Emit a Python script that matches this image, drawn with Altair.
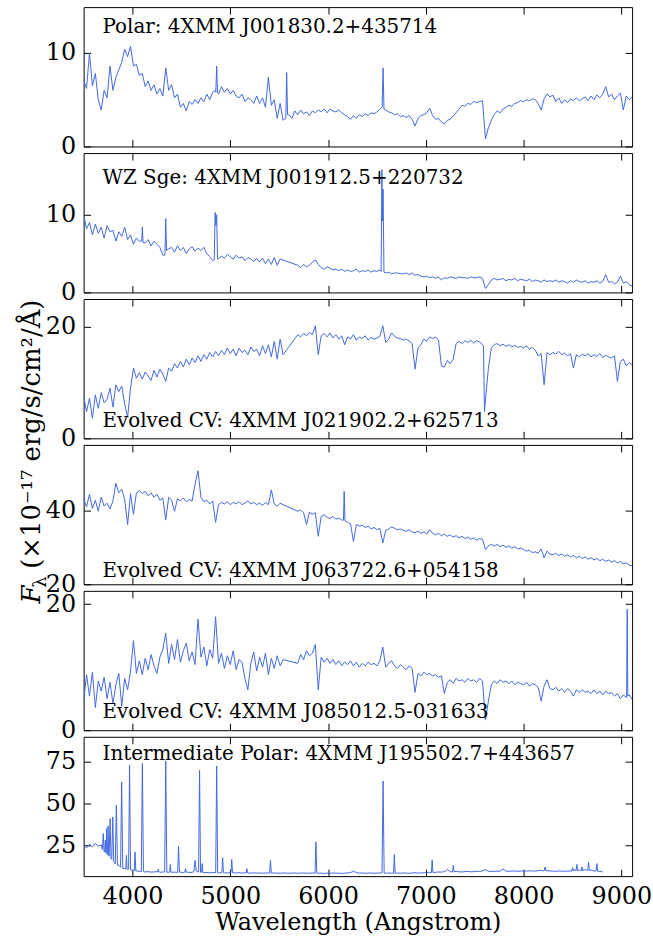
import altair as alt
import pandas as pd

# ---------------- data ----------------
# shared sampling grid (Angstrom), 30 A step from 3500 to 9110
WAVE = list(range(3500, 9111, 30))
XTICKS = [4000, 5000, 6000, 7000, 8000, 9000]

flux1 = [7.1, 6.2, 10.0, 6.5, 7.8, 5.0, 3.9, 6.0, 5.2, 8.6,
         6.0, 7.4, 8.2, 9.0, 10.4, 9.6, 10.7, 8.6, 8.8, 7.6,
         7.8, 6.4, 7.0, 6.0, 6.6, 5.6, 6.2, 5.4, 8.4, 6.0,
         6.6, 5.2, 5.6, 4.2, 4.6, 3.8, 4.8, 4.5, 5.0, 4.6,
         5.2, 4.8, 5.6, 5.0, 5.8, 6.0, 5.6, 6.4, 5.8, 6.2,
         5.6, 6.0, 5.4, 5.2, 5.6, 4.8, 5.2, 5.0, 4.6, 5.4,
         4.6, 5.2, 4.2, 7.4, 4.4, 5.0, 3.0, 4.6, 2.8, 5.0,
         3.4, 3.0, 3.8, 3.4, 3.9, 3.5, 3.7, 3.3, 3.8, 3.6,
         3.9, 3.7, 4.0, 3.6, 4.0, 3.8, 3.7, 3.9, 3.6, 3.4,
         3.2, 2.9, 3.3, 3.0, 3.4, 3.2, 3.5, 3.3, 3.6, 3.5,
         3.7, 4.0, 4.3, 3.9, 3.7, 3.6, 3.4, 3.5, 3.2, 3.3,
         3.1, 3.3, 2.9, 2.2, 3.0, 3.3, 3.4, 3.6, 4.1, 3.3,
         2.9, 3.0, 2.6, 2.4, 2.8, 2.9, 3.3, 3.6, 4.0, 4.4,
         4.3, 4.6, 4.5, 4.8, 4.7, 4.8, 4.9, 0.8, 2.0, 2.8,
         3.4, 3.8, 3.6, 4.0, 4.2, 4.4, 4.3, 4.6, 4.7, 4.9,
         4.8, 5.0, 4.9, 5.1, 5.0, 4.6, 3.9, 5.1, 5.6, 5.3,
         5.5, 4.8, 5.2, 4.6, 5.0, 4.7, 5.1, 4.9, 5.2, 4.9,
         5.1, 5.3, 4.9, 5.4, 5.0, 5.5, 5.2, 5.6, 6.4, 5.3,
         5.6, 5.0, 5.4, 5.7, 3.9, 5.4, 5.0, 5.3]
lines1_w = [4852, 4861, 4870, 5568, 5577, 5586, 6553, 6563, 6572]
lines1_f = [5.8, 8.6, 5.8, 3.0, 7.9, 3.4, 4.2, 8.4, 4.0]

flux2 = [10.0, 8.2, 9.0, 7.4, 8.8, 7.6, 8.4, 7.0, 8.6, 7.8,
         8.0, 6.6, 7.8, 7.2, 8.4, 6.8, 7.4, 6.2, 7.0, 6.6,
         8.2, 6.4, 6.8, 6.0, 6.6, 6.2, 5.8, 4.8, 9.4, 5.6,
         5.8, 5.2, 6.0, 5.4, 5.8, 5.0, 5.6, 5.9, 5.3, 5.7,
         5.4, 5.8, 5.0, 4.6, 4.1, 5.0, 4.3, 4.7, 4.4, 4.9,
         4.6, 4.3, 4.8, 4.4, 4.6, 4.1, 4.5, 4.3, 4.0, 4.4,
         3.9, 4.4, 3.7, 4.3, 3.6, 4.5, 3.5, 4.3, None, None,
         None, None, None, 3.5, 3.2, 3.6, 3.3, 3.5, 3.9, 4.2,
         3.6, 3.2, 3.0, 3.3, 3.1, 2.9, 3.0, 2.8, 3.0, 2.7,
         2.9, 2.7, 2.8, 3.0, 2.6, 2.8, 2.7, 2.9, 2.6, 2.8,
         2.7, 2.9, 2.6, 2.5, 2.6, 2.4, 2.5, 2.5, 2.4, 2.4,
         2.5, 2.3, 2.5, 2.2, 2.3, 2.1, 2.0, 2.1, 1.9, 2.0,
         1.8, 2.0, 1.6, 1.9, 1.8, 2.0, 1.9, 1.8, 2.0, 1.9,
         1.9, 1.8, 2.0, 1.9, 1.9, 2.0, 1.8, 0.5, 1.0, 1.6,
         1.8, 1.6, 1.7, 1.8, 1.5, 1.7, 1.6, 1.8, 1.5, 1.7,
         1.6, 1.5, 1.7, 1.4, 1.6, 1.5, 1.3, 1.6, 1.4, 1.5,
         1.4, 1.6, 1.3, 1.5, 1.4, 1.2, 1.5, 1.3, 1.6, 1.4,
         1.3, 1.5, 1.2, 1.4, 1.3, 1.5, 1.2, 1.4, 2.3, 1.3,
         1.4, 1.1, 1.3, 2.1, 1.2, 1.4, 1.0, 0.8]
lines2_w = [4094, 4101, 4108, 4332, 4340, 4348,
            4836, 4845, 4853, 4861, 4870,
            6543, 6551, 6557, 6563, 6572]
lines2_f = [6.6, 8.4, 6.4, 4.8, 9.5, 5.4,
            4.2, 10.3, 8.6, 10.0, 4.3,
            2.7, 15.8, 9.2, 13.3, 2.6]
groups2 = [(4094, 4108), (4332, 4348), (4836, 4870), (6543, 6572)]

flux3 = [7.6, 4.8, 7.2, 3.6, 7.8, 5.4, 8.2, 6.4, 7.0, 9.0,
         5.6, 9.6, 8.4, 9.4, 6.2, 3.8, 9.0, 12.6, 10.8, 11.8,
         10.6, 11.9, 11.2, 10.4, 12.2, 11.0, 12.4, 11.5, 10.2, 12.6,
         12.0, 13.4, 12.6, 13.8, 12.8, 14.2, 13.2, 14.4, 13.6, 14.8,
         13.8, 15.0, 14.2, 15.4, 14.6, 15.6, 14.8, 15.8, 15.0, 16.2,
         15.2, 16.0, 14.8, 16.2, 15.4, 15.8, 15.0, 16.4, 15.6, 16.0,
         14.8, 16.6, 15.2, 16.8, 14.6, 17.4, 14.2, 17.8, 15.0, None,
         None, None, None, 18.6, 18.2, 18.8, 18.4, 19.0, 18.6, 20.2,
         15.0, 18.4, 18.8, 18.2, 18.9, 18.0, 18.6, 17.8, 18.4, 16.8,
         18.2, 17.8, 18.6, 17.6, 18.2, 17.9, 18.4, 17.6, 18.1, 17.8,
         18.0, 18.3, 20.2, 17.2, 17.8, 18.9, 18.3, 18.0, 17.9, 17.6,
         17.8, 17.5, 17.0, 12.4, 16.2, 16.8, 17.8, 17.4, 18.2, 17.9,
         18.2, 17.6, 13.0, 12.8, 14.0, 13.4, 14.2, 17.0, 17.4, 17.0,
         17.5, 17.2, 17.6, 17.1, 17.5, 17.3, 16.8, None, 12.5, 16.2,
         16.8, 17.0, 16.6, 16.9, 16.5, 16.8, 16.4, 16.7, 16.3, 16.5,
         16.2, 16.6, 16.0, 16.3, 15.8, 14.8, 15.2, 9.6, 15.4, 15.0,
         15.4, 15.1, 15.6, 15.0, 15.3, 14.8, 15.2, 12.6, 15.0, 14.6,
         15.1, 14.8, 15.2, 14.6, 15.0, 14.7, 15.2, 14.5, 14.9, 14.6,
         14.4, 14.8, 10.2, 13.8, 14.2, 13.0, 13.6, 13.2]
lines3_w = [7590, 7600, 7612]
lines3_f = [16.6, 4.8, 7.2]

flux4 = [43.2, 41.0, 44.4, 40.6, 42.8, 39.8, 43.6, 41.2, 42.0, 40.4,
         42.6, 47.4, 44.8, 45.8, 43.0, 36.2, 44.6, 39.0, 44.8, 45.4,
         44.6, 45.2, 44.0, 44.8, 43.6, 44.4, 42.8, 43.4, 37.4, 43.6,
         42.8, 39.8, 43.2, 42.6, 43.4, 42.4, 43.0, 42.6, 47.2, 50.8,
         43.6, 42.4, 42.8, 41.8, 42.6, 36.8, 41.6, 42.2, 41.8, 42.4,
         41.6, 42.2, 41.8, 42.4, 41.6, 42.0, 42.6, 41.8, 42.2, 41.6,
         42.0, 41.4, 42.2, 41.6, 45.6, 41.8, 41.2, 42.0, 41.6, None,
         None, None, None, 39.8, 40.2, 39.4, 36.2, 39.6, 39.0, 39.4,
         33.0, 38.4, 38.8, 38.2, 37.8, 38.4, 37.6, 38.0, 37.4, None,
         36.8, 36.4, 31.6, 36.2, 35.8, 36.0, 35.4, 35.8, 35.0, 35.4,
         34.8, 35.2, 31.2, 34.6, 35.0, 35.6, 35.2, 34.8, 35.0, 34.6,
         34.4, 34.8, 34.2, 34.0, 34.4, 33.8, 34.2, 33.6, 34.8, 33.8,
         33.4, 33.8, 33.2, 33.6, 33.0, 33.4, 32.8, 33.2, 32.6, 33.0,
         32.4, 32.8, 32.2, 32.6, 32.0, 32.4, 32.2, 29.4, 30.4, 30.8,
         30.4, 30.8, 30.2, 30.6, 30.0, 30.4, 29.8, 30.2, 29.6, 29.8,
         29.4, 29.0, 29.2, 28.6, 28.8, 28.4, 29.6, 27.2, 29.0, 28.2,
         28.0, 28.4, 27.8, 28.2, 27.6, 28.0, 27.4, 27.8, 27.2, 27.6,
         27.0, 27.4, 26.8, 27.2, 26.6, 27.0, 26.4, 26.8, 26.2, 26.6,
         26.0, 26.4, 25.8, 26.2, 25.6, 25.8, 25.2, 25.0]
lines4_w = [6158, 6165, 6173]
lines4_f = [37.4, 45.2, 37.2]

flux5 = [4.6, 8.8, 5.4, 9.2, 3.6, 7.8, 6.2, 8.4, 5.0, 7.6,
         4.2, 7.2, 9.0, 3.8, 8.2, 6.4, 9.4, 14.2, 9.0, 11.0,
         8.8, 11.4, 9.6, 12.0, 10.2, 9.0, 11.6, 12.8, 15.4, 10.6,
         13.6, 11.2, 14.4, 10.8, 12.6, 13.8, 11.0, 12.4, 10.4, 17.6,
         11.6, 13.2, 10.2, 12.8, 11.4, 18.0, 10.6, 12.2, 9.8, 11.8,
         10.4, 12.6, 9.6, 11.2, 10.8, 8.2, 6.4, 10.6, 12.4, 9.4,
         11.6, 10.0, 12.2, 8.8, 11.4, 9.8, 11.8, 10.2, 11.2, None,
         None, None, None, 10.6, 12.0, 11.2, 12.6, 11.8, 12.2, 13.6,
         6.4, 11.6, 10.8, 11.4, 10.6, 11.2, 10.4, 11.0, 10.2, 10.8,
         10.4, 11.0, 10.2, 10.8, 10.0, 10.6, 10.2, 10.8, 10.4, 10.6,
         10.2, 11.0, 13.2, 10.0, 10.6, 11.0, 10.2, 9.8, 10.4, 10.0,
         9.6, 10.2, 9.8, 6.0, 9.0, 8.6, 9.2, 8.8, 9.0, 8.6,
         8.8, 8.4, 8.6, 5.8, 7.6, 8.0, 7.4, 8.2, 7.8, 8.0,
         7.6, 8.2, 7.8, 8.0, 7.6, 8.2, 7.8, 1.6, 4.6, 7.2,
         7.8, 7.4, 8.0, 7.6, 7.8, 7.4, 7.8, 7.2, 7.6, 7.4,
         7.2, 7.6, 7.0, 7.4, 7.2, 6.8, 4.6, 7.0, 8.0, 6.6,
         6.4, 6.8, 6.2, 6.6, 6.0, 6.6, 6.2, 5.4, 6.4, 6.0,
         6.4, 6.0, 6.2, 5.8, 6.4, 5.8, 6.2, 5.6, 6.2, 5.8,
         6.0, 5.4, 5.8, 5.0, 5.6, 5.2, 5.6, 4.9]
lines5_w = [9054, 9060, 9066]
lines5_f = [5.2, 19.2, 5.4]

flux6 = [24.8, 23.4, 25.6, 24.0, 26.2, 24.4, 25.2, 22.0, 24.0, 19.0,
         18.0, 15.0, 13.0, 12.0, 11.0, 10.6, 10.2, 9.8, 9.6, 9.4,
         9.2, 9.0, 9.2, 8.9, 9.0, 9.2, 8.8, 9.0, 8.9, 8.8,
         8.8, 8.9, 8.7, 8.9, 8.6, 9.0, 8.7, 8.8, 9.4, 9.0,
         8.8, 8.6, 8.7, 8.5, 8.6, 8.7, 8.4, 8.6, 8.5, 8.4,
         8.6, 8.5, 8.4, 8.6, 8.3, 8.5, 8.4, 8.3, 8.5, 8.3,
         8.4, 8.2, 8.4, 8.3, 8.2, 8.4, 8.3, 8.2, 8.4, 8.3,
         8.2, 8.3, 8.4, 8.2, 8.3, 8.4, 8.2, 8.3, 8.4, 8.3,
         8.2, 8.3, 8.1, 8.3, 8.2, 8.4, 8.2, 8.3, 8.1, 8.3,
         8.4, 8.6, 9.4, 8.6, 8.3, 8.4, 8.2, 8.3, 8.4, 8.2,
         8.3, 8.4, 8.5, 8.3, 8.4, 8.2, 8.6, 8.3, 8.2, 8.4,
         8.3, 8.2, 8.4, 8.6, 8.3, 8.4, 8.5, 8.6, 8.8, 8.7,
         8.8, 9.0, 8.9, 9.2, 10.4, 9.2, 9.0, 9.3, 9.1, 9.0,
         9.2, 9.3, 9.1, 9.2, 9.4, 9.3, 9.6, 10.4, 9.4, 9.3,
         9.4, 9.5, 9.4, 10.8, 9.5, 9.4, 9.5, 9.6, 9.4, 9.5,
         9.6, 9.5, 9.7, 9.6, 9.5, 9.8, 10.0, 9.6, 9.8, 9.6,
         9.5, 9.4, 9.6, 9.5, 9.4, 9.5, 9.6, 10.6, 9.8, 10.2,
         9.6, 10.4, 9.8, 10.2, 9.6, 10.8, 9.4, 9.0, None, None,
         None, None, None, None, None, None, None, None]
lines6_w = [3692, 3701, 3709, 3715, 3722, 3728, 3730, 3735, 3741,
            3744, 3750, 3757, 3761, 3771, 3780, 3788, 3798, 3808,
            3824, 3835, 3846, 3878, 3889, 3900, 3931, 3938, 3945,
            3960, 3970, 3980, 4018, 4026, 4034, 4090, 4101, 4112,
            4256, 4264, 4272, 4329, 4340, 4351, 4380, 4387, 4394,
            4462, 4471, 4480, 4535, 4542, 4549, 4628, 4640, 4652,
            4676, 4686, 4696, 4706, 4713, 4720, 4851, 4861, 4871,
            4914, 4922, 4930, 5007, 5015, 5023, 5162, 5170, 5178,
            5402, 5411, 5420, 5867, 5876, 5885, 6552, 6563, 6574,
            6670, 6678, 6686, 7057, 7065, 7073, 7273, 7281, 7289,
            8212, 8220, 8228, 8492, 8500, 8508, 8537, 8545, 8553,
            8590, 8598, 8606, 8657, 8665, 8673, 8742, 8750, 8758]
lines6_f = [22.5, 32.0, 21.5, 21.0, 28.0, 20.5, 20.5, 35.0, 19.5,
            19.5, 36.5, 18.5, 18.5, 41.0, 17.0, 16.5, 42.0, 15.0,
            13.8, 49.0, 13.0, 11.8, 63.0, 11.2, 10.8, 19.0, 10.6,
            10.6, 73.0, 10.3, 9.8, 21.0, 9.6, 9.3, 74.0, 9.2,
            9.0, 10.6, 9.0, 9.0, 75.5, 8.9, 8.9, 13.5, 8.8,
            8.9, 24.5, 8.8, 8.9, 11.0, 8.8, 9.2, 16.0, 9.6,
            9.0, 70.0, 8.8, 8.8, 14.0, 8.7, 8.6, 72.5, 8.6,
            8.6, 17.5, 8.5, 8.5, 16.5, 8.5, 8.4, 11.0, 8.4,
            8.3, 16.0, 8.3, 8.3, 27.0, 8.3, 8.4, 63.5, 8.3,
            8.3, 19.5, 8.3, 8.6, 16.3, 8.7, 9.0, 13.0, 9.1,
            9.8, 12.0, 9.8, 9.5, 11.5, 9.6, 9.8, 13.5, 9.8,
            9.8, 12.0, 9.8, 9.9, 15.0, 9.9, 9.6, 14.0, 9.4]

labels = ["Polar: 4XMM J001830.2+435714",
          "WZ Sge: 4XMM J001912.5+220732",
          "Evolved CV: 4XMM J021902.2+625713",
          "Evolved CV: 4XMM J063722.6+054158",
          "Evolved CV: 4XMM J085012.5-031633",
          "Intermediate Polar: 4XMM J195502.7+443657"]
y_domains = [[0, 14.9], [0, 17.95], [0, 25], [20, 57.8], [0, 22.1], [6.5, 90]]
y_ticks = [[0, 10], [0, 10], [0, 20], [20, 40], [0, 20], [25, 50, 75]]

# y-axis title pieces: italic F, subscript lambda, remainder
ytitle_parts = ["F", "λ", "(×10⁻¹⁷ erg/s/cm²/Å)"]


def triplets(lw):
    return [(lw[i], lw[i + 2]) for i in range(0, len(lw), 3)]


def build(flux, lw, lf, groups):
    rows = []
    for w, f in zip(WAVE, flux):
        if f is None:
            continue
        if any(a <= w <= b for a, b in groups):
            continue
        rows.append({"w": w, "f": f})
    for w, f in zip(lw, lf):
        rows.append({"w": w, "f": f})
    return pd.DataFrame(rows)


frames = [
    build(flux1, lines1_w, lines1_f, triplets(lines1_w)),
    build(flux2, lines2_w, lines2_f, groups2),
    build(flux3, lines3_w, lines3_f, triplets(lines3_w)),
    build(flux4, lines4_w, lines4_f, triplets(lines4_w)),
    build(flux5, lines5_w, lines5_f, triplets(lines5_w)),
    build(flux6, lines6_w, lines6_f, triplets(lines6_w)),
]

# ---------------- styling ----------------
FONT = "DejaVu Serif"
BLUE = "#4169E1"
AX = dict(domain=False, grid=False, ticks=True, tickSize=7, tickWidth=1,
          tickColor="black", offset=-7, labelFont=FONT, labelFontSize=24,
          labelColor="black", labelPadding=8, labelFlush=False,
          labelOverlap=False)
LABEL_Y = [26, 31, 129, 132.7, 127.3, 23.4]


def text_layer(s, x, y, size, **kw):
    return alt.Chart(pd.DataFrame({"t": [s]})).mark_text(
        font=FONT, fontSize=size, color="black", **kw
    ).encode(x=alt.value(x), y=alt.value(y), text="t:N")


def panel(i):
    df = frames[i]
    last = i == 5
    xs = alt.Scale(domain=[3500, 9110], nice=False, zero=False)
    ys = alt.Scale(domain=y_domains[i], nice=False, zero=False)

    if last:
        xaxis = alt.Axis(orient="bottom", values=XTICKS, labels=True,
                         format="d",
                         title="Wavelength (Angstrom)", titleFont=FONT,
                         titleFontSize=24, titleFontWeight="normal",
                         titleColor="black", titlePadding=3, **AX)
    else:
        xaxis = alt.Axis(orient="bottom", values=XTICKS, labels=False,
                         title=None, **AX)

    yaxis = alt.Axis(orient="left", values=y_ticks[i], title=None, **AX)

    line = alt.Chart(df).mark_line(color=BLUE, strokeWidth=1, clip=True).encode(
        x=alt.X("w:Q", scale=xs, axis=xaxis),
        y=alt.Y("f:Q", scale=ys, axis=yaxis),
    )
    mirror = alt.Chart(df).mark_line(strokeOpacity=0, clip=True).encode(
        x=alt.X("w:Q", scale=xs,
                axis=alt.Axis(orient="top", values=XTICKS, labels=False,
                              title=None, **AX)),
        y=alt.Y("f:Q", scale=ys,
                axis=alt.Axis(orient="right", values=y_ticks[i], labels=False,
                              title=None, **AX)),
    )
    layers = [line, mirror,
              text_layer(labels[i], 19, LABEL_Y[i], 20,
                         align="left", baseline="alphabetic")]

    if i == 2:
        # rotated y-axis title shared by all panels
        layers += [
            text_layer(ytitle_parts[0], -44, 306, 26, align="left",
                       baseline="alphabetic", angle=270, fontStyle="italic"),
            text_layer(ytitle_parts[1], -44, 290, 18, align="left",
                       baseline="alphabetic", angle=270, dy=6),
            text_layer(ytitle_parts[2], -44, 271, 26, align="left",
                       baseline="alphabetic", angle=270),
        ]

    return alt.layer(*layers).resolve_scale(
        x="independent", y="independent"
    ).resolve_axis(x="independent", y="independent").properties(
        width=551, height=140
    )


chart = alt.vconcat(*[panel(i) for i in range(6)], spacing=6.6,
                    bounds="flush").properties(
    padding={"left": 18, "top": 4, "right": 0, "bottom": 0},
    background="white",
).configure_view(stroke="black", strokeWidth=1)

chart.save("out.html", embed_options={"renderer": "svg", "actions": False})
